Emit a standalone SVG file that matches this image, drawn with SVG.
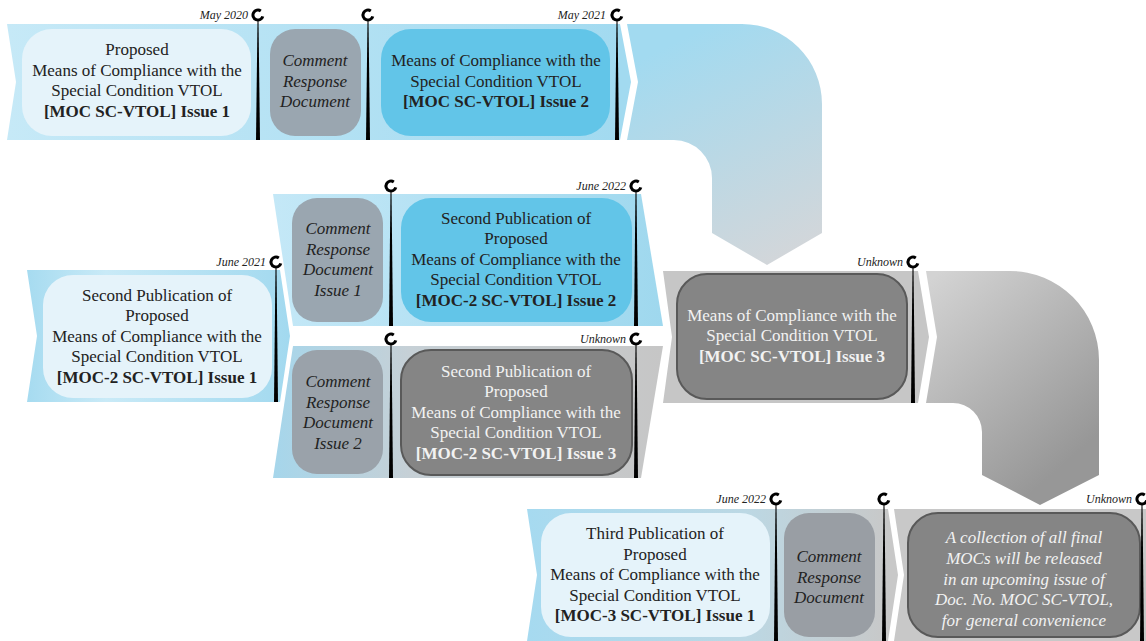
<svg xmlns="http://www.w3.org/2000/svg" width="1146" height="641" viewBox="0 0 1146 641" font-family="Liberation Serif, DejaVu Serif, serif">
<defs>
<linearGradient id="gTop" x1="7" y1="0" x2="622" y2="0" gradientUnits="userSpaceOnUse"><stop offset="0" stop-color="#c6e9f7"/><stop offset="1" stop-color="#a2daf0"/></linearGradient>
<linearGradient id="gArrowBlue" x1="680" y1="40" x2="790" y2="265" gradientUnits="userSpaceOnUse"><stop offset="0" stop-color="#a2daf0"/><stop offset="1" stop-color="#d4d6d9"/></linearGradient>
<linearGradient id="gMidLeft" x1="27" y1="0" x2="290" y2="0" gradientUnits="userSpaceOnUse"><stop offset="0" stop-color="#a6dbf0"/><stop offset="0.3" stop-color="#c9eaf7"/><stop offset="1" stop-color="#a2d9ef"/></linearGradient>
<linearGradient id="gUpper" x1="273" y1="0" x2="663" y2="0" gradientUnits="userSpaceOnUse"><stop offset="0" stop-color="#c4e8f7"/><stop offset="1" stop-color="#9fd8ee"/></linearGradient>
<linearGradient id="gLower" x1="273" y1="0" x2="663" y2="0" gradientUnits="userSpaceOnUse"><stop offset="0" stop-color="#a6d6eb"/><stop offset="0.35" stop-color="#c6d0d6"/><stop offset="1" stop-color="#c6c6c6"/></linearGradient>
<linearGradient id="gArrowGrey" x1="930" y1="280" x2="1080" y2="450" gradientUnits="userSpaceOnUse"><stop offset="0" stop-color="#d3d3d3"/><stop offset="1" stop-color="#979797"/></linearGradient>
<linearGradient id="gBottom" x1="527" y1="0" x2="890" y2="0" gradientUnits="userSpaceOnUse"><stop offset="0" stop-color="#a6daf0"/><stop offset="0.6" stop-color="#bcd8e4"/><stop offset="1" stop-color="#c8c8c8"/></linearGradient>
<style>
.t{font-size:17px;fill:#222;text-anchor:middle}
.w{fill:#f2f2f2}
.b{font-weight:bold}
.i{font-style:italic}
.d{font-size:12px;font-style:italic;fill:#222;text-anchor:end}
.light{fill:#e5f3fa}
.crd{fill:#9aa6b0}
.blue{fill:#62c5e8}
.dark{fill:#858585;stroke:#595959;stroke-width:2}
.ring{fill:none;stroke:#000;stroke-width:3}
.stem{fill:#000}
</style>
<path id="ring" class="ring" d="M4.8,1.3 A5,5 0 1 1 2.8,-4.1"/>
</defs>

<g id="bands">
<path d="M7,24 H620 L631,82 L620,140 H7 L16,82 Z" fill="url(#gTop)"/>
<path d="M27,270 H280 L290,336 L280,402 H27 L37,336 Z" fill="url(#gMidLeft)"/>
<path d="M273,194 H641 L663,326 H293 Z" fill="url(#gUpper)"/>
<path d="M293,346 H663 L641,478 H273 Z" fill="url(#gLower)"/>
<path d="M663,271 H918 L929,337 L918,403 H663 L672,337 Z" fill="#c6c6c6"/>
<path d="M527,509 H888 L898,575 L888,641 H527 L537,575 Z" fill="url(#gBottom)"/>
<path d="M894,509 H1146 V641 H894 L904,575 Z" fill="#c8c8c8"/>
</g>

<g id="connectors">
<path d="M627,24 H742 A80,80 0 0 1 822,104 V233 L767,265 L712,233 V178 A38,38 0 0 0 674,140 H627 L638,82 Z" fill="url(#gArrowBlue)"/>
<path d="M926,271 H1010 A89,89 0 0 1 1099,360 V475 L1040,505 L982,475 V432 A29,29 0 0 0 953,403 H926 L937,337 Z" fill="url(#gArrowGrey)"/>
</g>

<g id="node-moc-issue1">
<rect class="light" x="22" y="29" width="229" height="107" rx="30"/>
<text class="t" x="137" y="55">Proposed</text>
<text class="t" x="137" y="76">Means of Compliance with the</text>
<text class="t" x="137" y="96">Special Condition VTOL</text>
<text class="t b" x="137" y="117">[MOC SC-VTOL] Issue 1</text>
</g>
<g id="node-crd-top">
<rect class="crd" x="270" y="29" width="91" height="107" rx="25"/>
<text class="t i" x="315" y="66">Comment</text>
<text class="t i" x="315" y="87">Response</text>
<text class="t i" x="315" y="107">Document</text>
</g>
<g id="node-moc-issue2">
<rect class="blue" x="381" y="29" width="229" height="107" rx="30"/>
<text class="t" x="496" y="66">Means of Compliance with the</text>
<text class="t" x="496" y="87">Special Condition VTOL</text>
<text class="t b" x="496" y="107">[MOC SC-VTOL] Issue 2</text>
</g>

<g id="node-moc2-issue1">
<rect class="light" x="43" y="275" width="229" height="123" rx="30"/>
<text class="t" x="157" y="301">Second Publication of</text>
<text class="t" x="157" y="321">Proposed</text>
<text class="t" x="157" y="342">Means of Compliance with the</text>
<text class="t" x="157" y="362">Special Condition VTOL</text>
<text class="t b" x="157" y="383">[MOC-2 SC-VTOL] Issue 1</text>
</g>
<g id="node-crd-issue1">
<rect class="crd" x="292" y="198" width="91" height="124" rx="25"/>
<text class="t i" x="338" y="234">Comment</text>
<text class="t i" x="338" y="255">Response</text>
<text class="t i" x="338" y="275">Document</text>
<text class="t i" x="338" y="296">Issue 1</text>
</g>
<g id="node-moc2-issue2">
<rect class="blue" x="401" y="198" width="231" height="124" rx="30"/>
<text class="t" x="516" y="224">Second Publication of</text>
<text class="t" x="516" y="244">Proposed</text>
<text class="t" x="516" y="265">Means of Compliance with the</text>
<text class="t" x="516" y="285">Special Condition VTOL</text>
<text class="t b" x="516" y="306">[MOC-2 SC-VTOL] Issue 2</text>
</g>
<g id="node-crd-issue2">
<rect class="crd" x="292" y="350" width="91" height="124" rx="25" style="fill:#9aa2aa"/>
<text class="t i" x="338" y="387">Comment</text>
<text class="t i" x="338" y="408">Response</text>
<text class="t i" x="338" y="428">Document</text>
<text class="t i" x="338" y="449">Issue 2</text>
</g>
<g id="node-moc2-issue3">
<rect class="dark" x="401" y="350" width="231" height="125" rx="30"/>
<text class="t w" x="516" y="377">Second Publication of</text>
<text class="t w" x="516" y="397">Proposed</text>
<text class="t w" x="516" y="418">Means of Compliance with the</text>
<text class="t w" x="516" y="438">Special Condition VTOL</text>
<text class="t b w" x="516" y="459">[MOC-2 SC-VTOL] Issue 3</text>
</g>
<g id="node-moc-issue3">
<rect class="dark" x="677" y="274" width="230" height="125" rx="30"/>
<text class="t w" x="792" y="321">Means of Compliance with the</text>
<text class="t w" x="792" y="341">Special Condition VTOL</text>
<text class="t b w" x="792" y="362">[MOC SC-VTOL] Issue 3</text>
</g>

<g id="node-moc3-issue1">
<rect class="light" x="541" y="513" width="229" height="124" rx="30"/>
<text class="t" x="655" y="539">Third Publication of</text>
<text class="t" x="655" y="560">Proposed</text>
<text class="t" x="655" y="580">Means of Compliance with the</text>
<text class="t" x="655" y="601">Special Condition VTOL</text>
<text class="t b" x="655" y="621">[MOC-3 SC-VTOL] Issue 1</text>
</g>
<g id="node-crd-bottom">
<rect class="crd" x="784" y="513" width="91" height="124" rx="25" style="fill:#999ea4"/>
<text class="t i" x="829" y="562">Comment</text>
<text class="t i" x="829" y="583">Response</text>
<text class="t i" x="829" y="603">Document</text>
</g>
<g id="node-final">
<rect class="dark" x="908" y="513" width="232" height="124" rx="30"/>
<text class="t i w" x="1024" y="543">A collection of all final</text>
<text class="t i w" x="1024" y="564">MOCs will be released</text>
<text class="t i w" x="1024" y="585">in an upcoming issue of</text>
<text class="t i w" x="1024" y="605">Doc. No. MOC SC-VTOL,</text>
<text class="t i w" x="1024" y="626">for general convenience</text>
</g>

<g id="milestones">
<polygon class="stem" points="257.5,20 258.5,20 260,140 256,140"/><use href="#ring" x="258" y="15"/>
<text class="d" x="248" y="19">May 2020</text>
<polygon class="stem" points="367.5,20 368.5,20 370,140 366,140"/><use href="#ring" x="368" y="15"/>
<polygon class="stem" points="616.5,20 617.5,20 619,140 615,140"/><use href="#ring" x="617" y="15"/>
<text class="d" x="606" y="19">May 2021</text>

<polygon class="stem" points="275.5,267 276.5,267 278,402 274,402"/><use href="#ring" x="276" y="262"/>
<text class="d" x="266" y="266">June 2021</text>
<polygon class="stem" points="390.5,191 391.5,191 393,326 389,326"/><use href="#ring" x="391" y="186"/>
<polygon class="stem" points="635.5,191 636.5,191 638,326 634,326"/><use href="#ring" x="636" y="186"/>
<text class="d" x="626" y="190">June 2022</text>
<polygon class="stem" points="390.5,344 391.5,344 393,478 389,478"/><use href="#ring" x="391" y="339"/>
<polygon class="stem" points="635.5,344 636.5,344 638,478 634,478"/><use href="#ring" x="636" y="339"/>
<text class="d" x="626" y="343">Unknown</text>
<polygon class="stem" points="912.5,267 913.5,267 915,403 911,403"/><use href="#ring" x="913" y="262"/>
<text class="d" x="903" y="266">Unknown</text>

<polygon class="stem" points="775.5,504 776.5,504 778,641 774,641"/><use href="#ring" x="776" y="499"/>
<text class="d" x="766" y="503">June 2022</text>
<polygon class="stem" points="883.5,504 884.5,504 886,641 882,641"/><use href="#ring" x="884" y="499"/>
<polygon class="stem" points="1141.5,504 1142.5,504 1144,641 1140,641"/><use href="#ring" x="1142" y="499"/>
<text class="d" x="1132" y="503">Unknown</text>
</g>
</svg>
